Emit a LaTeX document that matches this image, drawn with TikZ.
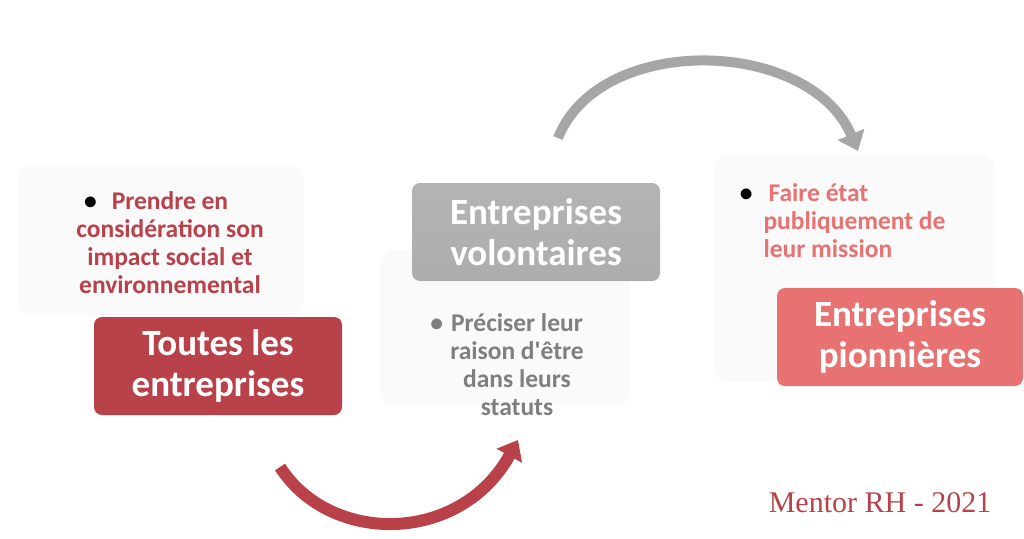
\documentclass[tikz,border=0pt]{standalone}
\usepackage{fontspec}
\setmainfont{Carlito}
\newfontfamily\mentorfont{Liberation Serif}
\usetikzlibrary{arrows, arrows.meta}
\definecolor{redbox}{HTML}{B8414A}
\definecolor{pinkbox}{HTML}{E87272}
\definecolor{greybox}{HTML}{A6A6A6}
\definecolor{greytext}{HTML}{7F7F7F}

\begin{document}
\begin{tikzpicture}[x=1pt,y=-1pt,
    softbox/.style={fill=black!2, rounded corners=14pt},
    stagebox/.style={rounded corners=8pt, text=white, align=center,
        font=\bfseries\fontsize{37}{41}\selectfont,
        minimum width=248pt, minimum height=98pt},
    bullettext/.style={font=\bfseries\fontsize{25.5}{28}\selectfont},
    bigarrow/.style={line width=12pt, -{Triangle[width=28pt,length=18pt]}}]
    \useasboundingbox (0,0) rectangle (1024,538);
    \fill[white] (0,0) rectangle (1024,538);
    % light panels behind the stages
    \fill[softbox] (18,165) rectangle (303,315);
    \fill[softbox] (380,250) rectangle (630,405);
    \fill[softbox] (715,155) rectangle (995,382);
    % stages
    \node[stagebox, fill=redbox] (toutes) at (218,366) {Toutes les\\entreprises};
    \node[stagebox, top color=greybox!85, bottom color=greybox!100!black!92] (volontaires) at (536,232) {Entreprises\\volontaires};
    \node[stagebox, fill=pinkbox, minimum width=246pt] (pionnieres) at (900,337) {Entreprises\\pionni\`eres};
    % bullet texts
    \node[bullettext, text=redbox, align=center] (prendre) at (170,243)
        {\llap{\color{black}\textbullet\hspace{15pt}}Prendre en\\consid\'eration son\\impact social et\\environnemental};
    \node[bullettext, text=greytext, align=center] (preciser) at (517,365)
        {\llap{\textbullet\hspace{8pt}}Pr\'eciser leur\\raison d\textquotesingle\^etre\\dans leurs\\statuts};
    \node[bullettext, text=pinkbox, align=left, anchor=west] (faire) at (760,221)
        {\llap{\color{black}\textbullet\hspace{11pt}}\hspace{5pt}Faire \'etat\\publiquement de\\leur mission};
    % arrows
    \coordinate (redstart) at (280,467);
    \coordinate (redend) at (518,440);
    \draw[bigarrow, redbox] (redstart) .. controls (330,545) and (460,545) .. (redend);
    \coordinate (greystart) at (558,138);
    \coordinate (greyend) at (858,151);
    \draw[bigarrow, greybox, line width=10pt] (greystart) .. controls (600,32) and (810,38) .. (greyend);
    \node[text=redbox, font=\mentorfont\fontsize{30}{36}\selectfont] (mentor) at (880,503) {Mentor RH - 2021};
\end{tikzpicture}
\end{document}
